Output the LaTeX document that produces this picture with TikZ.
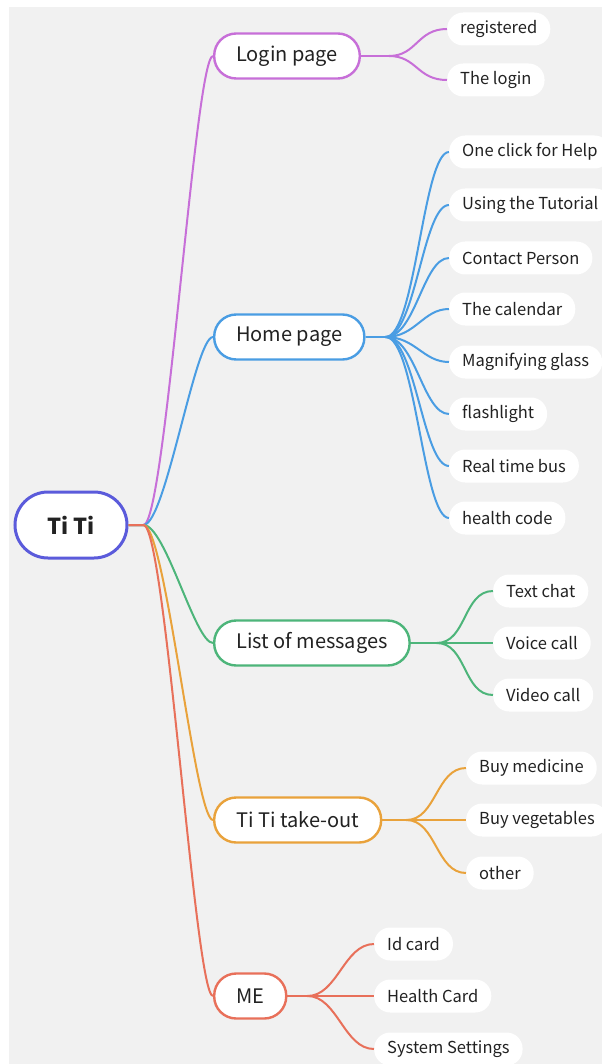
\documentclass[tikz,border=0pt]{standalone}
\usepackage{fontspec}
\setmainfont{Noto Sans CJK SC}
\usetikzlibrary{positioning}
\definecolor{bgc}{HTML}{F1F1F1}
\definecolor{txt}{HTML}{222222}
\definecolor{rootc}{HTML}{5B5BDB}
\definecolor{loginc}{HTML}{C76FD8}
\definecolor{homec}{HTML}{4A9DE3}
\definecolor{msgc}{HTML}{4DB57A}
\definecolor{takec}{HTML}{E9A23B}
\definecolor{mec}{HTML}{E8705A}
\begin{document}
\begin{tikzpicture}[x=1pt,y=-1pt,
  root/.style={rectangle,rounded corners=33pt,draw=rootc,line width=3pt,fill=white,minimum width=112pt,minimum height=66pt,font=\fontsize{22}{26}\selectfont\bfseries,text=txt},
  topic/.style={rectangle,rounded corners=22pt,draw=#1,line width=2.4pt,fill=white,minimum height=45pt,inner xsep=22pt,font=\fontsize{20}{24}\selectfont,text=txt,anchor=west},
  sub/.style={rectangle,rounded corners=16pt,fill=white,minimum height=33pt,inner xsep=13pt,font=\fontsize{16.5}{20}\selectfont,text=txt,anchor=west},
  link/.style={draw=#1,line width=2pt}]

\useasboundingbox (0,0) rectangle (602,1064);
\fill[white] (0,0) rectangle (602,1064);
\fill[bgc] (9,7) rectangle (602,1064);

\node[root] (titi) at (71,525) {Ti Ti};

\node[topic=loginc] (login) at (213,56) {Login page};
\node[topic=homec] (home) at (213,337) {Home page};
\node[topic=msgc] (msgs) at (213,643) {List of messages};
\node[topic=takec] (takeout) at (213,820) {Ti Ti take-out};
\node[topic=mec] (me) at (213,996) {ME};

\node[sub] (registered) at (447,29) {registered};
\node[sub] (thelogin) at (447,80) {The login};

\node[sub] (help) at (449,152) {One click for Help};
\node[sub] (tutorial) at (449,205) {Using the Tutorial};
\node[sub] (contact) at (449,258) {Contact Person};
\node[sub] (calendar) at (449,309) {The calendar};
\node[sub] (glass) at (449,362) {Magnifying glass};
\node[sub] (flash) at (449,414) {flashlight};
\node[sub] (bus) at (449,466) {Real time bus};
\node[sub] (health) at (449,518) {health code};

\node[sub] (textchat) at (493,591) {Text chat};
\node[sub] (voice) at (493,643) {Voice call};
\node[sub] (video) at (493,695) {Video call};

\node[sub] (medicine) at (466,768) {Buy medicine};
\node[sub] (vegetables) at (466,820) {Buy vegetables};
\node[sub] (other) at (466,873) {other};

\node[sub] (idcard) at (374,944) {Id card};
\node[sub] (healthcard) at (374,996) {Health Card};
\node[sub] (settings) at (374,1049) {System Settings};

\foreach \t/\c in {login/loginc,home/homec,msgs/msgc,takeout/takec,me/mec}
  \draw[link=\c] (titi.east) -- ++(15,0) .. controls +(22,0) and +(-18,0) .. (\t.west);

\coordinate (loginhub) at ([xshift=28]login.east);
\draw[link=loginc] (login.east) -- (loginhub);
\foreach \c in {registered,thelogin}
  \draw[link=loginc] (loginhub) .. controls +(28,0) and +(-30,0) .. (\c.west);

\coordinate (homehub) at ([xshift=20]home.east);
\draw[link=homec] (home.east) -- (homehub);
\foreach \c in {help,tutorial,contact,calendar,glass,flash,bus,health}
  \draw[link=homec] (homehub) .. controls +(30,0) and +(-26,0) .. (\c.west);

\coordinate (msgshub) at ([xshift=26]msgs.east);
\draw[link=msgc] (msgs.east) -- (msgshub);
\foreach \c in {textchat,voice,video}
  \draw[link=msgc] (msgshub) .. controls +(30,0) and +(-30,0) .. (\c.west);

\coordinate (takeouthub) at ([xshift=24]takeout.east);
\draw[link=takec] (takeout.east) -- (takeouthub);
\foreach \c in {medicine,vegetables,other}
  \draw[link=takec] (takeouthub) .. controls +(30,0) and +(-30,0) .. (\c.west);

\coordinate (mehub) at ([xshift=20]me.east);
\draw[link=mec] (me.east) -- (mehub);
\foreach \c in {idcard,healthcard,settings}
  \draw[link=mec] (mehub) .. controls +(30,0) and +(-30,0) .. (\c.west);

\end{tikzpicture}
\end{document}
